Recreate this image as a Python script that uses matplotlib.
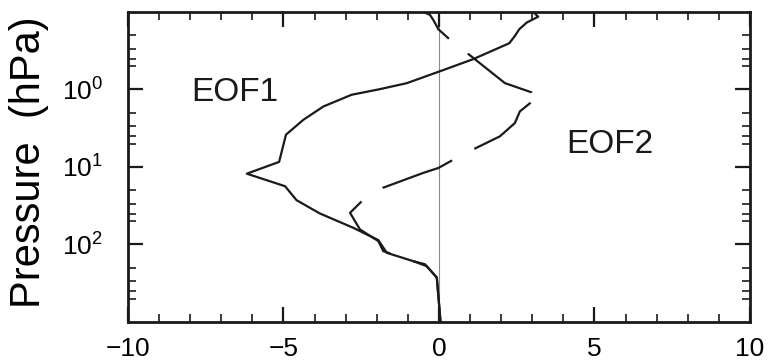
import numpy as np
import matplotlib.pyplot as plt
from matplotlib.ticker import FixedLocator, MultipleLocator, LogFormatterSciNotation, NullFormatter

plt.rcParams['font.family'] = ['Liberation Sans', 'DejaVu Sans']
plt.rcParams['mathtext.default'] = 'regular'

# EOF1 profile (pressure in hPa, amplitude)
p_eof1 = [0.10, 0.115, 0.137, 0.167, 0.204, 0.253, 0.406, 0.586, 0.83, 0.99, 1.17, 1.66,
          2.46, 3.83, 8.6, 12.2, 17.7, 26.8, 39.8, 60.8, 87.8, 128, 164, 190, 267, 1000]
x_eof1 = [3.03, 3.19, 2.82, 2.58, 2.44, 2.26, 1.10, 0.01, -1.04, -1.90, -2.81, -3.72,
          -4.36, -4.92, -5.14, -6.18, -4.95, -4.58, -3.83, -2.76, -1.95, -1.68, -0.83, -0.40, -0.07, 0.05]

# EOF2 profile
p_eof2 = [0.10, 0.109, 0.127, 0.167, 0.218, 0.340, 0.828, 1.09, 1.24, 1.50, 1.92, 2.71,
          4.02, 5.85, 8.27, 10.3, 11.9, 18.6, 27.6, 39.0, 64.0, 90.5, 122, 128, 164, 180, 267, 1000]
x_eof2 = [-0.50, -0.29, -0.18, -0.02, 0.30, 0.91, 2.12, 2.98, 3.07, 2.93, 2.60, 2.44,
          1.96, 1.13, 0.41, -0.02, -0.50, -1.81, -2.48, -2.86, -2.54, -1.95, -1.79, -1.63, -0.83, -0.45, -0.07, 0.05]

fig = plt.figure(figsize=(7.69, 3.6), dpi=100)
ax = fig.add_axes([0.1664, 0.1056, 0.8089, 0.8611])

ax.axvline(0, color='#8a8a8a', linewidth=0.8, zorder=1)
lw = 1.6
# long-dash pattern, given in pixels and turned into points / linewidth
px = 72 / 100 / lw
dash_px = [76, 24, 76, 12, 75, 25, 75, 25]
ax.plot(x_eof1, p_eof1, color='#1a1a1a', linewidth=lw, solid_joinstyle='round', zorder=3)
ax.plot(x_eof2, p_eof2, color='#1a1a1a', linewidth=lw,
        linestyle=(38 * px, [d * px for d in dash_px]), dash_capstyle='butt', zorder=3)

ax.set_yscale('log')
ax.set_ylim(1000, 0.1)
ax.set_xlim(-10, 10)

ax.xaxis.set_major_locator(MultipleLocator(5))
ax.xaxis.set_minor_locator(MultipleLocator(1))
ax.yaxis.set_major_locator(FixedLocator([1, 10, 100]))
ax.yaxis.set_major_formatter(LogFormatterSciNotation())
minors = [m * 10.0 ** e for e in (-1, 0, 1, 2) for m in (2, 3, 4, 5)]
ax.yaxis.set_minor_locator(FixedLocator(minors))
ax.yaxis.set_minor_formatter(NullFormatter())

ax.tick_params(which='both', direction='in', top=True, right=True, width=1.6, color='#1a1a1a')
ax.tick_params(which='major', length=11)
ax.tick_params(which='minor', length=5.5, width=1.2)
ax.tick_params(axis='x', which='major', labelsize=19, pad=11)
ax.tick_params(axis='y', which='major', labelsize=19, pad=18)

for s in ax.spines.values():
    s.set_linewidth(2.0)
    s.set_color('#1a1a1a')

ax.set_ylabel('Pressure  (hPa)', fontsize=30, va='center')
ax.yaxis.set_label_coords(-0.159, 0.514)

ax.text(-7.95, 1.09, 'EOF1', fontsize=24, ha='left', va='center', color='#1a1a1a')
ax.text(4.1, 5.2, 'EOF2', fontsize=24, ha='left', va='center', color='#1a1a1a')

fig.savefig('out.png', dpi=100)
